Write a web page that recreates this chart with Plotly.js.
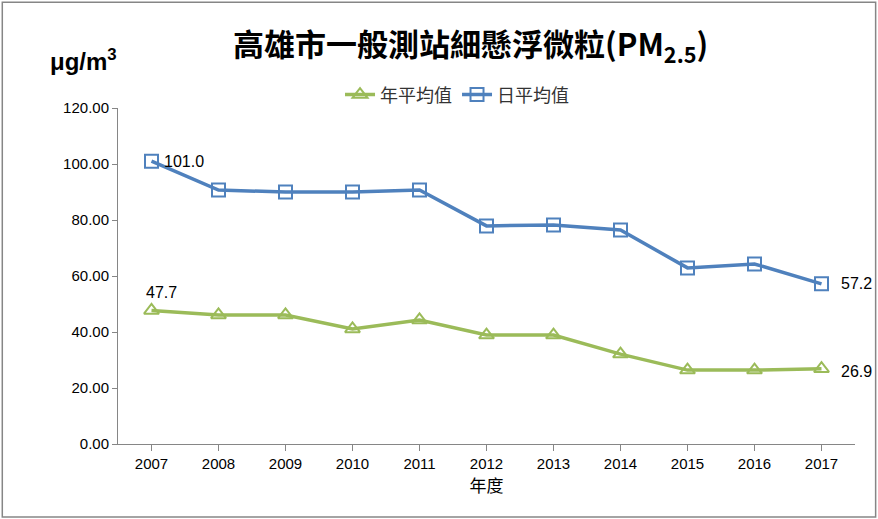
<!DOCTYPE html>
<html><head><meta charset="utf-8">
<script src="https://cdn.plot.ly/plotly-3.0.1.min.js"></script>
<style>body{margin:0}#c{width:878px;height:519px}</style></head>
<body><div id="c"></div>
<script>
const years=[2007,2008,2009,2010,2011,2012,2013,2014,2015,2016,2017];
const annual=[47.7,46.1,46.1,41.1,44.3,38.9,38.9,32.1,26.4,26.4,26.9];
const daily=[101.0,90.7,90.0,90.0,90.7,77.9,78.2,76.4,62.9,64.3,57.2];
const F='"Noto Sans CJK TC", "Liberation Sans", sans-serif';
const traces=[
 {x:years,y:annual,name:'年平均值',mode:'lines+markers',line:{color:'#9BBB59',width:3.5},
  marker:{symbol:'triangle-up-open',size:13,color:'#9BBB59',line:{width:2}}},
 {x:years,y:daily,name:'日平均值',mode:'lines+markers',line:{color:'#4F81BD',width:3.5},
  marker:{symbol:'square-open',size:13,color:'#4F81BD',line:{width:2}}}
];
const ann=[
 {x:years[0],y:daily[0],text:daily[0].toFixed(1),xshift:32,yshift:0},
 {x:years[10],y:daily[10],text:daily[10].toFixed(1),xshift:35,yshift:0},
 {x:years[0],y:annual[0],text:annual[0].toFixed(1),xshift:10,yshift:18},
 {x:years[10],y:annual[10],text:annual[10].toFixed(1),xshift:35,yshift:-3}
].map(a=>Object.assign(a,{showarrow:false,font:{size:16,color:'#000',family:'Liberation Sans'}}));
ann.push({xref:'paper',yref:'paper',x:-0.095,y:1.143,xanchor:'left',yanchor:'middle',showarrow:false,
  text:'<b>μg/m<sup>3</sup></b>',font:{size:24,family:'Liberation Sans',color:'#000'}});
ann.push({xref:'paper',yref:'paper',x:0.478,y:1.19,xanchor:'center',yanchor:'middle',showarrow:false,
  text:'<b>高雄市一般測站細懸浮微粒(PM<sub>2.5</sub>)</b>',font:{size:31,family:F,color:'#000'}});
Plotly.newPlot('c',traces,{
 width:878,height:519,margin:{l:118,r:23,t:108,b:75},
 paper_bgcolor:'#fff',plot_bgcolor:'#fff',showlegend:true,
 legend:{orientation:'h',x:0.46,xanchor:'center',y:1.039,yanchor:'middle',font:{size:18,family:F,color:'#333'}},
 xaxis:{range:[2006.5,2017.5],tickvals:years,showgrid:false,zeroline:false,showline:true,linecolor:'#868686',ticks:'outside',ticklen:6,tickcolor:'#868686',
   tickfont:{size:15,family:'Liberation Sans',color:'#000'},
   title:{text:'年度',font:{size:17,family:F,color:'#000'},standoff:4}},
 yaxis:{range:[0,120],dtick:20,tickformat:'.2f',showline:true,linecolor:'#868686',showgrid:false,zeroline:false,
   ticks:'outside',ticklen:5,tickcolor:'#868686',tickfont:{size:15,family:'Liberation Sans',color:'#000'}},
 annotations:ann,
 shapes:[{type:'rect',xref:'paper',yref:'paper',x0:-0.157,x1:1.028,y0:-0.217,y1:1.315,line:{color:'#868686',width:1.5}}]
},{displayModeBar:false});
</script></body></html>
